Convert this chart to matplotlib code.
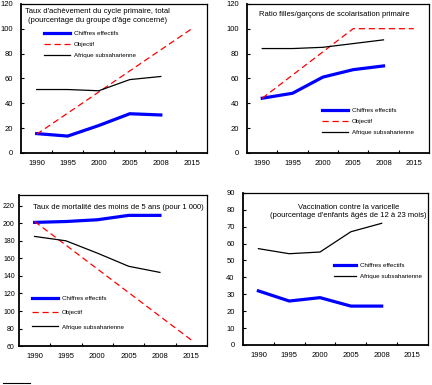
import matplotlib
matplotlib.use('Agg')
import matplotlib.pyplot as plt
from matplotlib.lines import Line2D

years = ['1990', '1995', '2000', '2005', '2008', '2015']
lbl_act = 'Chiffres effectifs'
lbl_obj = 'Objectif'
lbl_ssa = 'Afrique subsaharienne'

# panel 1: primary completion rate
p1_act = [15.5, 13.5, 22, 31.5, 30.5]
p1_ssa = [51, 51, 50, 59, 61.5]
p1_obj_x = ['1990', '2015']
p1_obj = [15, 100]

# panel 2: girls/boys ratio
p2_act = [44, 48, 61, 67, 70]
p2_ssa = [84, 84, 85, 88, 91]
p2_obj_x = ['1990', '2005', '2015']
p2_obj = [44, 100, 100]

# panel 3: under-5 mortality
p3_act = [201, 202, 204, 209, 209]
p3_ssa = [185, 180, 166, 151, 144]
p3_obj_x = ['1990', '2015']
p3_obj = [202, 67]

# panel 4: vaccination
p4_act = [32, 26, 28, 23, 23]
p4_ssa = [57, 54, 55, 67, 72]

plt.rcParams['font.family'] = ['Liberation Sans', 'DejaVu Sans']

fig = plt.figure(figsize=(4.32, 3.85), dpi=100)

def setup(ax, ylim, step, ypad=6):
    ax.set_xlim(-0.5, 5.5)
    ax.set_ylim(*ylim)
    ax.set_xticks(range(len(years)))
    ax.set_xticklabels(years, fontsize=5.5)
    ax.set_xticks([i + 0.5 for i in range(5)], minor=True)
    ax.tick_params(axis='x', which='major', length=0, pad=5)
    ax.tick_params(axis='x', which='minor', direction='in', length=2.5, width=0.8)
    yt = list(range(int(ylim[0]), int(ylim[1]) + 1, step))
    ax.set_yticks([v for v in yt if v <= ylim[1]])
    ax.tick_params(axis='y', labelsize=5.5, direction='in', length=2.5, width=0.8, pad=ypad)
    for s in ax.spines.values():
        s.set_linewidth(0.9)
    ax.spines['left'].set_linewidth(1.3)
    ax.spines['bottom'].set_linewidth(1.3)

def idx(labels):
    return [years.index(y) for y in labels]

act_x = list(range(5))
dash = (0, (5, 3))

# panel 1
ax1 = fig.add_axes([0.049, 0.603, 0.431, 0.387])
setup(ax1, (0, 120), 20)
ax1.plot(act_x, p1_act, color='#0000ff', lw=2.3, label=lbl_act)
ax1.plot(idx(p1_obj_x), p1_obj, color='#ff0000', lw=0.9, ls=dash, label=lbl_obj)
ax1.plot(act_x, p1_ssa, color='black', lw=0.9, label=lbl_ssa)
ax1.text(0.41, 0.97, "Taux d'achèvement du cycle primaire, total\n(pourcentage du groupe d'âge concerné)",
         transform=ax1.transAxes, ha='center', va='top', fontsize=5.5, linespacing=1.3)
ax1.legend(loc='upper left', bbox_to_anchor=(0.09, 0.86), frameon=False, fontsize=4.5,
           handlelength=4.2, labelspacing=0.9, handletextpad=0.6)

# panel 2
ax2 = fig.add_axes([0.572, 0.603, 0.421, 0.387])
setup(ax2, (0, 120), 20)
ax2.plot(act_x, p2_act, color='#0000ff', lw=2.3, label=lbl_act)
ax2.plot(idx(p2_obj_x), p2_obj, color='#ff0000', lw=0.9, ls=dash, label=lbl_obj)
ax2.plot(act_x, p2_ssa, color='black', lw=0.9, label=lbl_ssa)
ax2.text(0.48, 0.955, "Ratio filles/garçons de scolarisation primaire",
         transform=ax2.transAxes, ha='center', va='top', fontsize=5.5)
ax2.legend(loc='upper left', bbox_to_anchor=(0.38, 0.34), frameon=False, fontsize=4.5,
           handlelength=4.2, labelspacing=0.9, handletextpad=0.6)

# panel 3
ax3 = fig.add_axes([0.044, 0.101, 0.435, 0.392])
setup(ax3, (60, 232), 20, ypad=3)
ax3.set_yticks(range(60, 221, 20))
ax3.tick_params(axis='y', labelsize=5)
ax3.plot(act_x, p3_act, color='#0000ff', lw=2.3, label=lbl_act)
ax3.plot(idx(p3_obj_x), p3_obj, color='#ff0000', lw=0.9, ls=dash, label=lbl_obj)
ax3.plot(act_x, p3_ssa, color='black', lw=0.9, label=lbl_ssa)
ax3.text(0.53, 0.94, "Taux de mortalité des moins de 5 ans (pour 1 000)",
         transform=ax3.transAxes, ha='center', va='top', fontsize=5.5)
ax3.legend(loc='upper left', bbox_to_anchor=(0.04, 0.37), frameon=False, fontsize=4.5,
           handlelength=4.2, labelspacing=1.4, handletextpad=0.6)

# panel 4
ax4 = fig.add_axes([0.5625, 0.104, 0.428, 0.395])
setup(ax4, (0, 90), 10)
ax4.plot(act_x, p4_act, color='#0000ff', lw=2.3, label=lbl_act)
ax4.plot(act_x, p4_ssa, color='black', lw=0.9, label=lbl_ssa)
ax4.text(0.57, 0.93, "Vaccination contre la varicelle\n(pourcentage d'enfants âgés de 12 à 23 mois)",
         transform=ax4.transAxes, ha='center', va='top', fontsize=5.5, linespacing=1.3)
ax4.legend(loc='upper left', bbox_to_anchor=(0.46, 0.58), frameon=False, fontsize=4.5,
           handlelength=3.6, labelspacing=0.9, handletextpad=0.6)

# footnote rule
fig.add_artist(Line2D([0.007, 0.07], [0.005, 0.005], color='black', lw=0.8))

fig.savefig('out.png', dpi=100)
